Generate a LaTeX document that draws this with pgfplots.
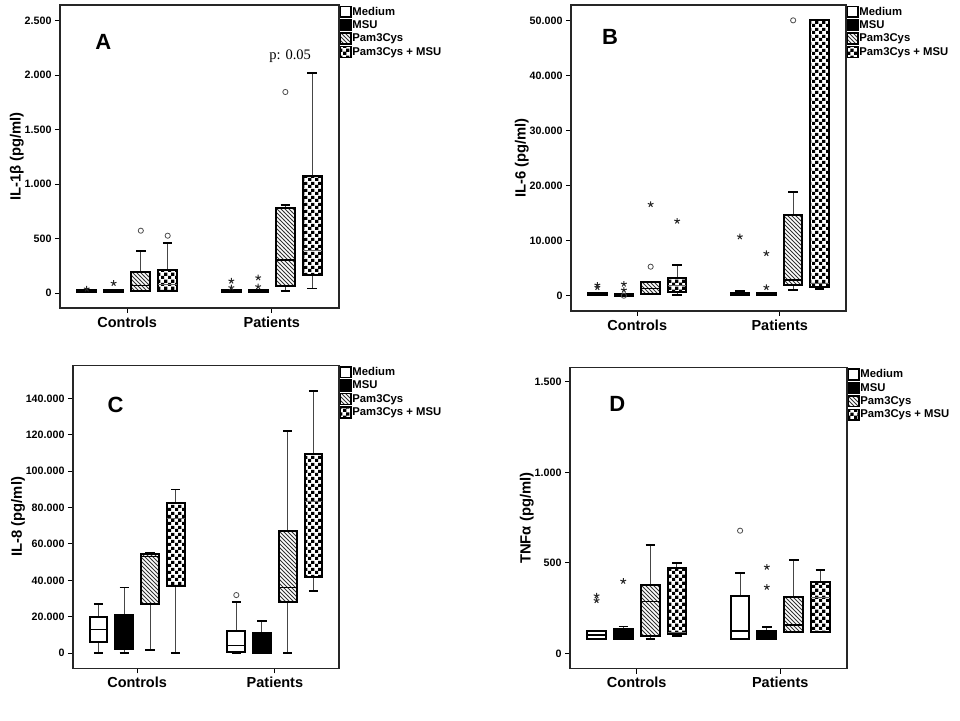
\documentclass[border=0pt]{standalone}
\usepackage{pgfplots}
\pgfplotsset{compat=1.18}
\usetikzlibrary{patterns}
\usepackage{fontspec}
\setmainfont{Liberation Sans}
\newfontfamily\timesfont{Liberation Serif}

\pgfdeclarepatternformonly{myhatch}{\pgfqpoint{-1pt}{-1pt}}{\pgfqpoint{5pt}{5pt}}{\pgfqpoint{4pt}{4pt}}{\pgfsetlinewidth{0.9pt}\pgfpathmoveto{\pgfqpoint{0pt}{4pt}}\pgfpathlineto{\pgfqpoint{4.1pt}{-0.1pt}}\pgfusepath{stroke}}
\pgfdeclarepatternformonly{bigchecker}{\pgfpointorigin}{\pgfqpoint{7pt}{7pt}}{\pgfqpoint{7pt}{7pt}}{\pgfpathrectangle{\pgfpointorigin}{\pgfqpoint{3.55pt}{3.55pt}}\pgfpathrectangle{\pgfqpoint{3.5pt}{3.5pt}}{\pgfqpoint{3.55pt}{3.55pt}}\pgfusepath{fill}}

\pgfplotsset{
  sMed/.style={draw=black,fill=white},
  sMSU/.style={draw=black,fill=black},
  sPam/.style={draw=black,pattern=myhatch,pattern color=black!80},
  sPM/.style={draw=black,pattern=bigchecker,pattern color=black},
  sMedmed/.style={draw=black,line width=1.6pt},
  sMSUmed/.style={draw=black,line width=1.2pt},
  sPammed/.style={draw=black,line width=1.2pt},
  sPMmed/.style={draw=black!60,line width=1pt},
  legMed/.style={legend image code/.code={\draw[draw=black,fill=white,line width=1.5pt] (0.5pt,-5.4pt) rectangle (11.3pt,5.4pt);}},
  legMSU/.style={legend image code/.code={\draw[draw=black,fill=black,line width=1.5pt] (0.5pt,-5.4pt) rectangle (11.3pt,5.4pt);}},
  legPam/.style={legend image code/.code={\draw[draw=black,pattern=myhatch,pattern color=black!80,line width=1.5pt] (0.5pt,-5.4pt) rectangle (11.3pt,5.4pt);}},
  legPM/.style={legend image code/.code={\draw[draw=black,pattern=bigchecker,pattern color=black,line width=1.5pt] (0.5pt,-5.4pt) rectangle (11.3pt,5.4pt);}},
  panel/.style={
    scale only axis, anchor=south west,
    scaled y ticks=false,
    xmin=0.535, xmax=2.465,
    xtick={1,2}, xticklabels={Controls,Patients},
    tick align=outside, xtick pos=bottom, ytick pos=left,
    major tick length=5pt, tick style={black,line width=1pt},
    axis line style={line width=1.3pt,black!85},
    yticklabel style={font=\bfseries\fontsize{10.7}{12}\selectfont},
    xticklabel style={font=\bfseries\fontsize{14.5}{16}\selectfont},
    ylabel style={font=\bfseries\fontsize{14.8}{16}\selectfont},
    ylabel shift=-6pt,
    legend style={at={(1,1)}, anchor=north west, xshift=0.3pt, yshift=-0.5pt,
      draw=none, fill=none, inner sep=0pt, row sep=1.1pt,
      nodes={inner sep=0.6pt},
      font=\bfseries\fontsize{11.3}{12}\selectfont},
    legend cell align=left,
  },
}

% style, position, lower whisker, q1, median, q3, upper whisker
\newcommand{\bx}[7]{%
  \pgfmathsetmacro\xa{#2-0.065}%
  \pgfmathsetmacro\xb{#2+0.065}%
  \pgfmathsetmacro\ca{#2-0.033}%
  \pgfmathsetmacro\cb{#2+0.033}%
  \addplot[forget plot, mark=none, draw=gray!55!black, line width=1pt] coordinates {(#2,#3) (#2,#4)};
  \addplot[forget plot, mark=none, draw=gray!55!black, line width=1pt] coordinates {(#2,#6) (#2,#7)};
  \addplot[forget plot, mark=none, draw=black, line width=1.8pt] coordinates {(\ca,#3) (\cb,#3)};
  \addplot[forget plot, mark=none, draw=black, line width=1.8pt] coordinates {(\ca,#7) (\cb,#7)};
  \addplot[forget plot, mark=none, #1, line width=2pt, line join=miter] coordinates {(\xa,#4) (\xb,#4) (\xb,#6) (\xa,#6)} -- cycle;
  \addplot[forget plot, mark=none, #1med] coordinates {(\xa,#5) (\xb,#5)};
}
\newcommand{\circs}[1]{\addplot[forget plot, only marks, mark=o, mark size=2.6pt, mark options={draw=black!70, line width=0.8pt}] coordinates {#1};}
\newcommand{\stars}[1]{\addplot[forget plot, only marks, mark=star, mark size=3pt, mark options={draw=black!85, line width=1pt}] coordinates {#1};}
\newcommand{\leg}{\addlegendimage{legMed}\addlegendentry{Medium}\addlegendimage{legMSU}\addlegendentry{MSU}\addlegendimage{legPam}\addlegendentry{Pam3Cys}\addlegendimage{legPM}\addlegendentry{Pam3Cys + MSU}}

\begin{document}
\begin{tikzpicture}
\useasboundingbox (0,0) rectangle (960pt,720pt);

% ---------------- A ----------------
\begin{axis}[panel, at={(60pt,412pt)}, width=279pt, height=303pt,
  ymin=-135, ymax=2644,
  ytick={0,500,1000,1500,2000,2500}, yticklabels={0,500,1.000,1.500,2.000,2.500},
  ylabel={IL-1β (pg/ml)}]
\leg
\bx{sMed}{0.72}{12}{15}{20}{28}{32}
\bx{sMSU}{0.906}{12}{15}{20}{28}{32}
\bx{sPam}{1.094}{24}{24}{73}{195}{391}
\bx{sPM}{1.28}{24}{24}{80}{214}{458}
\bx{sMed}{1.72}{12}{15}{20}{28}{32}
\bx{sMSU}{1.906}{12}{15}{20}{28}{32}
\bx{sPam}{2.094}{24}{70}{305}{785}{810}
\bx{sPM}{2.28}{43}{168}{391}{1076}{2017}
\circs{(1.094,574) (1.28,528) (2.094,1846)}
\stars{(0.72,40) (0.906,92) (1.72,113) (1.72,52) (1.906,143) (1.906,61)}
\node[font=\bfseries\fontsize{22}{22}\selectfont] at (axis cs:0.835,2305) {A};
\node[font=\timesfont\fontsize{14.5}{16}\selectfont] at (axis cs:2.127,2176) {p: 0.05};
\end{axis}

% ---------------- B ----------------
\begin{axis}[panel, at={(571pt,409pt)}, width=275pt, height=306pt,
  ymin=-2778, ymax=52787,
  ytick={0,10000,20000,30000,40000,50000}, yticklabels={0,10.000,20.000,30.000,40.000,50.000},
  ylabel={IL-6 (pg/ml)}]
\leg
\bx{sMed}{0.72}{30}{60}{250}{420}{500}
\bx{sMSU}{0.906}{0}{30}{120}{240}{300}
\bx{sPam}{1.094}{300}{300}{1271}{2542}{2542}
\bx{sPM}{1.28}{182}{605}{1816}{3148}{5569}
\bx{sMed}{1.72}{30}{100}{300}{550}{850}
\bx{sMSU}{1.906}{30}{60}{200}{420}{500}
\bx{sPam}{2.094}{1029}{1937}{2845}{14648}{18825}
\bx{sPM}{2.28}{1150}{1634}{2240}{50058}{50058}
\circs{(0.906,0) (1.094,5266) (2.094,50000)}
\stars{(0.72,1937) (0.72,1513) (0.906,2119) (0.906,1029) (1.094,16586) (1.28,13559) (1.72,10714) (1.906,7687) (1.906,1513)}
\node[font=\bfseries\fontsize{22}{22}\selectfont] at (axis cs:0.809,47030) {B};
\end{axis}

% ---------------- C ----------------
\begin{axis}[panel, at={(73pt,51.7pt)}, width=266pt, height=303pt,
  ymin=-8411, ymax=158315,
  ytick={0,20000,40000,60000,80000,100000,120000,140000},
  yticklabels={0,20.000,40.000,60.000,80.000,100.000,120.000,140.000},
  ylabel={IL-8 (pg/ml)}]
\leg
\bx{sMed}{0.72}{0}{6230}{13011}{19974}{26938}
\bx{sMSU}{0.906}{0}{2382}{10000}{21074}{36100}
\bx{sPam}{1.094}{1649}{26938}{52959}{54242}{55158}
\bx{sPM}{1.28}{0}{36833}{74033}{82279}{89976}
\bx{sMed}{1.72}{0}{367}{4032}{12095}{27854}
\bx{sMSU}{1.906}{0}{0}{3000}{10812}{17592}
\bx{sPam}{2.094}{0}{27854}{35917}{67253}{122228}
\bx{sPM}{2.28}{34268}{41598}{83562}{109400}{144035}
\circs{(1.72,31886)}
\node[font=\bfseries\fontsize{22}{22}\selectfont] at (axis cs:0.843,136340) {C};
\end{axis}

% ---------------- D ----------------
\begin{axis}[panel, at={(570pt,51.3pt)}, width=277pt, height=301pt,
  ymin=-85, ymax=1579,
  ytick={0,500,1000,1500}, yticklabels={0,500,1.000,1.500},
  ylabel={TNFα (pg/ml)}]
\leg
\bx{sMed}{0.72}{78}{78}{102}{126}{126}
\bx{sMSU}{0.906}{79}{79}{102}{133}{148}
\bx{sPam}{1.094}{79}{98}{286}{375}{597}
\bx{sPM}{1.28}{96}{105}{115}{471}{499}
\bx{sMed}{1.72}{78}{78}{124}{318}{443}
\bx{sMSU}{1.906}{78}{78}{102}{126}{144}
\bx{sPam}{2.094}{120}{120}{157}{314}{517}
\bx{sPM}{2.28}{120}{120}{310}{392}{462}
\circs{(1.72,678)}
\stars{(0.72,318) (0.72,292) (0.906,399) (1.906,477) (1.906,366)}
\node[font=\bfseries\fontsize{22}{22}\selectfont] at (axis cs:0.865,1380) {D};
\end{axis}
\end{tikzpicture}
\end{document}
